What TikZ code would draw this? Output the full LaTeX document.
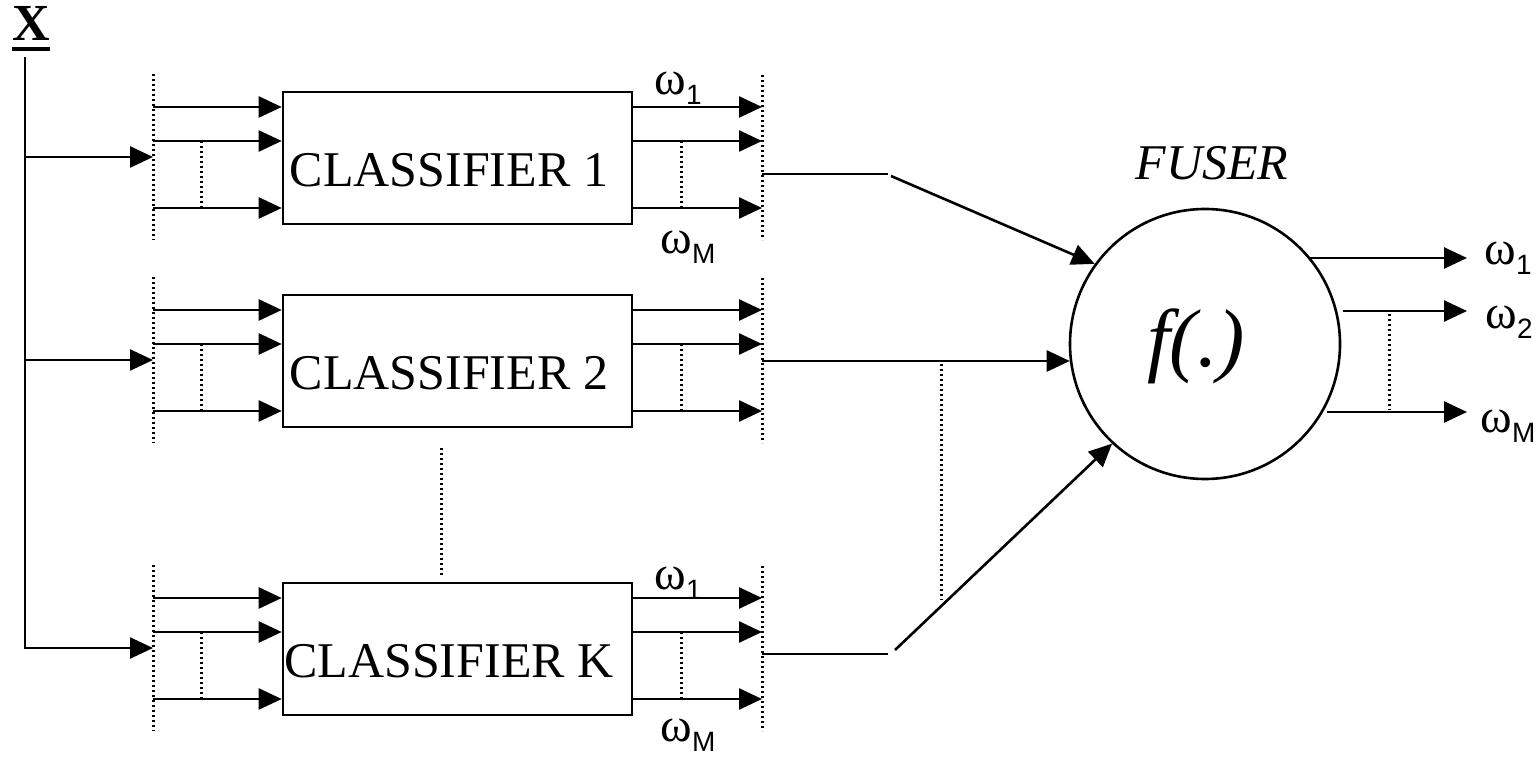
\documentclass[tikz,border=0pt]{standalone}
\usepackage{fontspec}
\setmainfont{Liberation Serif}
\newfontfamily\subsans{Liberation Sans}
\usetikzlibrary{arrows.meta}
% omega with a sans-serif subscript
\newcommand\omlab[1]{ω\raisebox{-5pt}{\subsans\fontsize{14}{14}\selectfont #1}}
\begin{document}
\begin{tikzpicture}[x=0.5pt,y=-0.5pt,
  wire/.style={line width=1.3pt},
  arr/.style={wire,-{Triangle[length=11.5pt,width=10.5pt]}},
  dotline/.style={line width=1.5pt,dash pattern=on 1.2pt off 1.3pt},
  clbox/.style={draw,line width=1.3pt,minimum width=174.5pt,minimum height=66pt,inner sep=0pt},
  cltext/.style={font=\fontsize{25}{30}\selectfont,inner sep=0pt},
  omtext/.style={font=\fontsize{24}{28}\selectfont,inner sep=0pt},
  fuser/.style={draw,circle,line width=1.3pt,minimum size=135pt,inner sep=0pt}]
\useasboundingbox (0,0) rectangle (1540,758);

% input vector
\node[font=\fontsize{26}{30}\selectfont\bfseries,inner sep=0pt] (xin) at (31,29)
  {\vtop{\hbox{X}\kern3pt\hrule height 2.2pt}};
\coordinate (xtop) at (25,57);

% the K classifiers
\foreach \n/\off/\tap in {1/0/174, 2/203/361, K/491/654}{
  \node[clbox] (c\n) at (457.5,158+\off) {};
  \node[cltext] (ct\n) at (449,170+\off) {CLASSIFIER \n};
  \coordinate (lbt\n) at (153,74+\off);
  \coordinate (lbb\n) at (153,240+\off);
  \coordinate (rbt\n) at (762,75+\off);
  \coordinate (rbb\n) at (762,240+\off);
  \draw[dotline] (lbt\n) -- (lbb\n);
  \draw[dotline] (rbt\n) -- (rbb\n);
  \foreach \k/\yy in {a/107, b/141, c/208}{
    \coordinate (li\n\k) at (153,\yy+\off);
    \coordinate (ro\n\k) at (762,\yy+\off);
    \draw[arr] (li\n\k) -- (li\n\k -| c\n.west);
    \draw[arr] (ro\n\k -| c\n.east) -- (ro\n\k);
  }
  \coordinate (ldt\n) at (201,141+\off);
  \coordinate (ldb\n) at (201,208+\off);
  \coordinate (rdt\n) at (681,141+\off);
  \coordinate (rdb\n) at (681,208+\off);
  \draw[dotline] (ldt\n) -- (ldb\n);
  \draw[dotline] (rdt\n) -- (rdb\n);
  \coordinate (tap\n) at (762,\tap);
  \coordinate (trk\n) at (25,157+\off);
}

% class labels on the first and last classifier
\node[omtext] (w11) at (678,88) {\omlab{1}};
\node[omtext] (w1m) at (688,247) {\omlab{M}};
\node[omtext] (wk1) at (678,583) {\omlab{1}};
\node[omtext] (wkm) at (688,735) {\omlab{M}};

% trunk feeding every classifier
\draw[arr] (xtop) -- (trkK) -- (trkK -| lbtK);
\draw[arr] (trk1) -- (trk1 -| lbt1);
\draw[arr] (trk2) -- (trk2 -| lbt2);

% classifiers omitted between 2 and K
\coordinate (gapt) at (441,448);
\coordinate (gapb) at (441,576);
\draw[dotline] (gapt) -- (gapb);

% fuser
\node[fuser] (fz) at (1205,344) {};
\node[font=\fontsize{41}{48}\selectfont\itshape,inner sep=0pt] (fzf) at (1196,346) {f(.)};
\node[font=\fontsize{25}{30}\selectfont\itshape,inner sep=0pt] (fzl) at (1212,163) {FUSER};

% classifier outputs into the fuser
\coordinate (k1) at (888,174);
\coordinate (d1) at (891,176);
\draw[wire] (tap1) -- (k1);
\draw[arr] (d1) -- (fz.144);
\draw[arr] (tap2) -- (tap2 -| fz.187);
\coordinate (kK) at (888,654);
\coordinate (dK) at (895,650);
\draw[wire] (tapK) -- (kK);
\draw[arr] (dK) -- (fz.227);
\coordinate (jt) at (941,364);
\coordinate (jb) at (941,600);
\draw[dotline] (jt) -- (jb);

% fused outputs
\coordinate (oe) at (1467,0);
\coordinate (fo1) at (1310,258);
\coordinate (fo2) at (1343,311);
\coordinate (fo3) at (1327,412);
\draw[arr] (fo1) -- (fo1 -| oe);
\draw[arr] (fo2) -- (fo2 -| oe);
\draw[arr] (fo3) -- (fo3 -| oe);
\coordinate (fdt) at (1389,314);
\coordinate (fdb) at (1389,410);
\draw[dotline] (fdt) -- (fdb);
\node[omtext] (fw1) at (1508,258) {\omlab{1}};
\node[omtext] (fw2) at (1509,322) {\omlab{2}};
\node[omtext] (fwm) at (1508,426) {\omlab{M}};
\end{tikzpicture}
\end{document}
